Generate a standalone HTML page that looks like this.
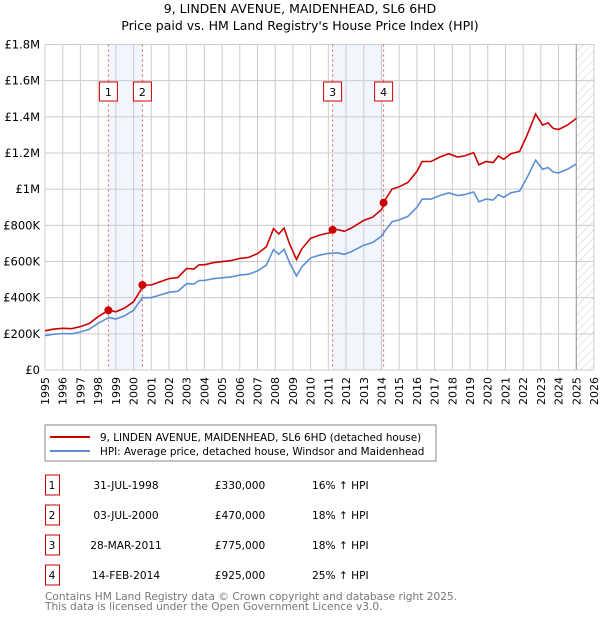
<!DOCTYPE html>
<html><head><meta charset="utf-8"><style>
body{margin:0;background:#fff;font-family:"DejaVu Sans","Liberation Sans",sans-serif;}
svg text{font-family:"DejaVu Sans","Liberation Sans",sans-serif;}
</style></head><body>
<svg id="c" width="600" height="620" xmlns="http://www.w3.org/2000/svg">
<defs><pattern id="hatch" width="6" height="6" patternUnits="userSpaceOnUse" patternTransform="rotate(45)"><line x1="0" y1="0" x2="0" y2="6" stroke="#ccc" stroke-width="1"/></pattern></defs>
<text x="300" y="13" text-anchor="middle" font-size="12.5">9, LINDEN AVENUE, MAIDENHEAD, SL6 6HD</text>
<text x="300" y="30" text-anchor="middle" font-size="12.5">Price paid vs. HM Land Registry's House Price Index (HPI)</text>
<g id="plot"></g>
<rect x="45" y="425" width="391" height="36" fill="#fff" stroke="#888"/>
<line x1="50" y1="437" x2="90" y2="437" stroke="#cc0000" stroke-width="2"/>
<text x="100" y="441" font-size="10.4">9, LINDEN AVENUE, MAIDENHEAD, SL6 6HD (detached house)</text>
<line x1="50" y1="451" x2="90" y2="451" stroke="#5b8fd4" stroke-width="2"/>
<text x="100" y="455" font-size="10.4">HPI: Average price, detached house, Windsor and Maidenhead</text>
<g id="table"></g>
<text x="45" y="600" font-size="10.6" fill="#777">Contains HM Land Registry data © Crown copyright and database right 2025.</text>
<text x="45" y="610" font-size="10.6" fill="#777">This data is licensed under the Open Government Licence v3.0.</text>
</svg>
<script>
const hpiYears=[1995,1995.5,1996,1996.5,1997,1997.5,1998,1998.6,1999,1999.5,2000,2000.5,2001,2001.5,2002,2002.5,2003,2003.4,2003.7,2004,2004.5,2005,2005.5,2006,2006.5,2007,2007.5,2007.9,2008.2,2008.5,2008.8,2009.2,2009.5,2010,2010.5,2011,2011.5,2011.9,2012.3,2013,2013.5,2014,2014.2,2014.6,2015,2015.5,2016,2016.3,2016.8,2017.3,2017.8,2018.3,2018.7,2019.2,2019.5,2019.9,2020.3,2020.6,2020.9,2021.3,2021.8,2022.2,2022.7,2023.1,2023.4,2023.7,2024.0,2024.5,2025.0];
const hpiValues=[190,198,202,200,210,225,258,290,282,300,330,400,400,415,430,435,478,475,495,495,505,510,515,525,530,548,580,665,640,668,595,520,570,620,635,645,648,640,655,690,705,740,770,820,830,850,900,945,945,965,980,965,970,985,930,945,940,970,955,980,990,1060,1160,1110,1120,1095,1090,1110,1140];
const saleDates=[1998.58,2000.5,2011.24,2014.12];
const salePrices=[330,470,775,925];
const saleLabels=["1","2","3","4"];
const saleDateText=["31-JUL-1998","03-JUL-2000","28-MAR-2011","14-FEB-2014"];
const salePriceText=["£330,000","£470,000","£775,000","£925,000"];
const saleHpiText=["16% ↑ HPI","18% ↑ HPI","18% ↑ HPI","25% ↑ HPI"];
const yTicks=[0,200,400,600,800,1000,1200,1400,1600,1800];
const yTickLabels=["£0","£200K","£400K","£600K","£800K","£1M","£1.2M","£1.4M","£1.6M","£1.8M"];

const NS="http://www.w3.org/2000/svg";
const X0=45,X1=594,Y0=370,Y1=44.5,xMin=1995,xMax=2026,yMax=1800;
const xs=v=>X0+(v-xMin)/(xMax-xMin)*(X1-X0);
const ys=v=>Y0-v/yMax*(Y0-Y1);
const plot=document.getElementById('plot');
function mk(t,a,p){const e=document.createElementNS(NS,t);for(const k in a)e.setAttribute(k,a[k]);(p||plot).appendChild(e);return e;}
for(let i=0;i<4;i+=2){const r=mk('rect',{x:xs(saleDates[i]),y:Y1,width:xs(saleDates[i+1])-xs(saleDates[i]),height:Y0-Y1,fill:'#eef3fc',opacity:0.8});

}
for(let y=xMin;y<=xMax;y++){const l=mk('line',{x1:xs(y),x2:xs(y),y1:Y1,y2:Y0,stroke:'#ccc','stroke-width':1});


const tx=xs(y)+4,ty=377;
const t=mk('text',{x:tx,y:ty,transform:'rotate(-90 '+tx+' '+ty+')','text-anchor':'end','font-size':11});
t.textContent=y;

}
yTicks.forEach((v,i)=>{const l=mk('line',{x1:X0,x2:X1,y1:ys(v),y2:ys(v),stroke:'#ccc','stroke-width':1});


const t=mk('text',{x:40,y:ys(v)+4,'text-anchor':'end','font-size':11.5});
t.textContent=yTickLabels[i];

});
const h=mk('rect',{x:xs(2025.0),y:Y1,width:X1-xs(2025.0),height:Y0-Y1,fill:'url(#hatch)'});


const hl=mk('line',{x1:xs(2025.0),x2:xs(2025.0),y1:Y1,y2:Y0,stroke:'#999','stroke-width':1});


saleDates.forEach((d,i)=>{const l=mk('line',{x1:xs(d),x2:xs(d),y1:Y1,y2:Y0,stroke:'#e06060','stroke-width':1,'stroke-dasharray':'2,3'});


const b=mk('rect',{x:xs(d)-9,y:82,width:18,height:19,fill:'#fff',stroke:'#cc0000'});


const t=mk('text',{x:xs(d),y:96,'text-anchor':'middle','font-size':11});
t.textContent=saleLabels[i];

});
function hpiAt(d){for(let i=1;i<hpiYears.length;i++){if(d<=hpiYears[i]){const f=(d-hpiYears[i-1])/(hpiYears[i]-hpiYears[i-1]);return hpiValues[i-1]+f*(hpiValues[i]-hpiValues[i-1]);}}return hpiValues[hpiValues.length-1];}
function ratioAt(d){let k=0;for(let i=0;i<saleDates.length;i++)if(d>=saleDates[i])k=i;return salePrices[k]/hpiAt(saleDates[k]);}
const redPts=[];hpiYears.forEach(d=>redPts.push([d,hpiAt(d)*ratioAt(d)]));
saleDates.forEach((d,i)=>redPts.push([d-0.001,hpiAt(d)*ratioAt(d-0.01)],[d,salePrices[i]]));
redPts.sort((a,b)=>a[0]-b[0]);
const bp=mk('path',{d:'M'+hpiYears.map((d,i)=>xs(d).toFixed(1)+','+ys(hpiValues[i]).toFixed(1)).join('L'),fill:'none',stroke:'#5b8fd4','stroke-width':1.6});


const rp=mk('path',{d:'M'+redPts.map(p=>xs(p[0]).toFixed(1)+','+ys(p[1]).toFixed(1)).join('L'),fill:'none',stroke:'#cc0000','stroke-width':1.6});


saleDates.forEach((d,i)=>{const c=mk('circle',{cx:xs(d),cy:ys(salePrices[i]),r:4,fill:'#cc0000'});

});
mk('line',{x1:X0,x2:X1,y1:Y0,y2:Y0,stroke:'#ccc'});
const tb=document.getElementById('table');
saleDates.forEach((d,i)=>{const cy=485+i*30;
const b=mk('rect',{x:45.5,y:cy-10,width:14,height:20,fill:'#fff',stroke:'#cc0000'},tb);


const vals=[[52,'middle',saleLabels[i]],[126,'middle',saleDateText[i]],[240,'middle',salePriceText[i]],[312,'start',saleHpiText[i]]];
const names=['table-num-','table-date-','table-price-','table-hpi-'];
vals.forEach((v,j)=>{const t=mk('text',{x:v[0],y:cy+4,'text-anchor':v[1],'font-size':10.6},tb);t.textContent=v[2];

});});
</script>
</body></html>
